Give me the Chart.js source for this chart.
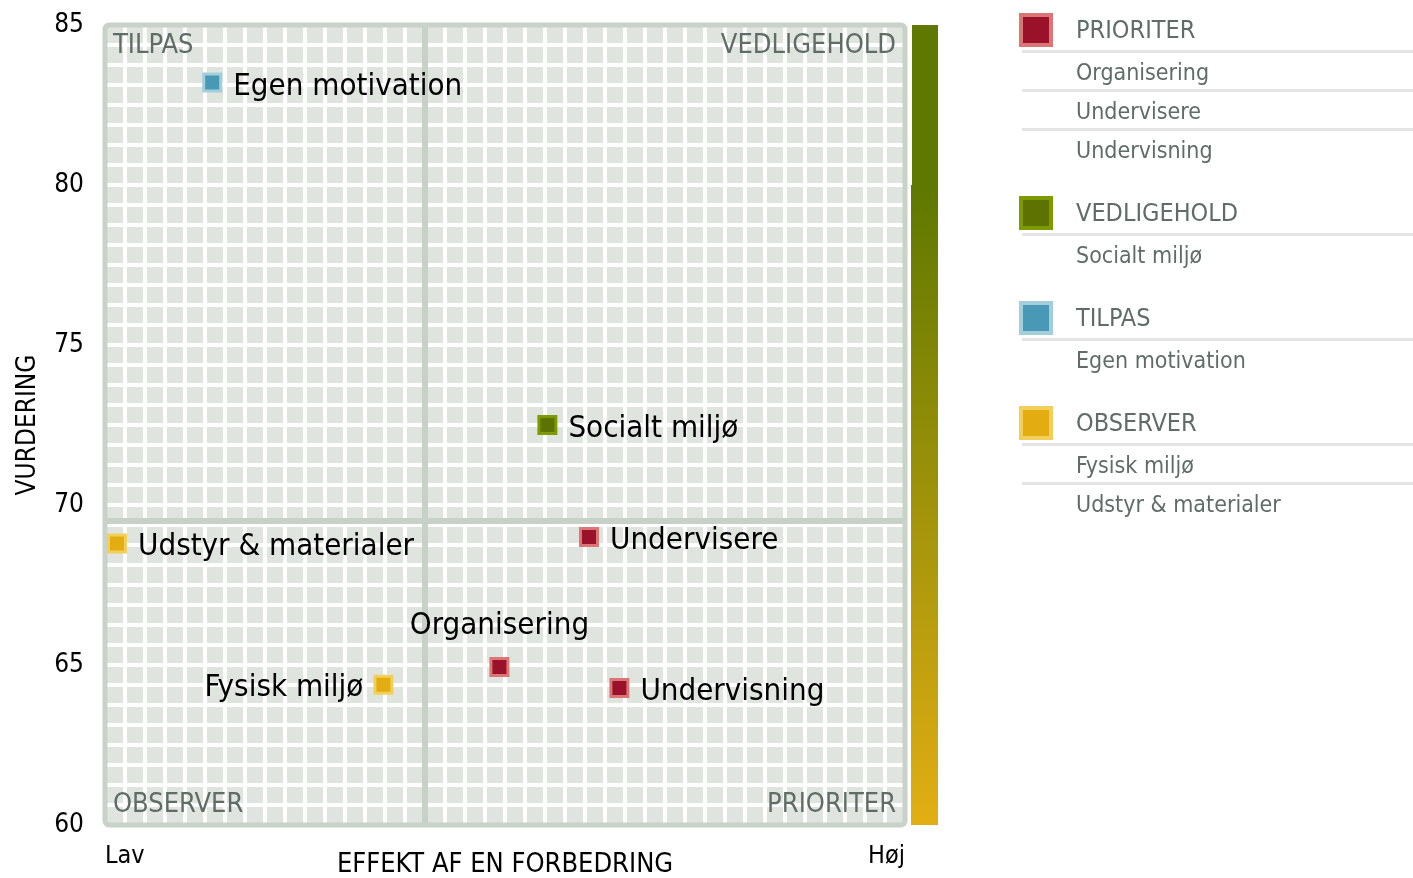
<!DOCTYPE html>
<html>
<head>
<meta charset="utf-8">
<script src="https://cdn.jsdelivr.net/npm/chart.js@4.4.1/dist/chart.umd.min.js"></script>
<style>
  body { margin: 0; background: #fff; font-family: "DejaVu Sans Condensed", "DejaVu Sans", sans-serif; }
  #wrap { position: relative; width: 1413px; height: 878px; overflow: hidden; }
  #legend { position: absolute; left: 0; top: 0; width: 1413px; height: 878px; pointer-events: none; }
  .lg-text { position: absolute; left: 1076px; color: #5f6d66; white-space: nowrap; line-height: 30px; height: 30px; }
  .lg-head { font-size: 25px; }
  .lg-item { font-size: 23px; }
  .lg-mark { position: absolute; left: 1019px; width: 26px; height: 26px; border: 4px solid; }
  .lg-line { position: absolute; left: 1022px; width: 391px; height: 3px; background: #e3e4e3; }
</style>
</head>
<body>
<div id="wrap">
  <canvas id="chart" width="1413" height="878"></canvas>
  <div id="legend"></div>
</div>
<script>
const FONT = 'DejaVu Sans Condensed';

// Quadrants / groups
const groups = ['PRIORITER', 'VEDLIGEHOLD', 'TILPAS', 'OBSERVER'];
const groupFill = ['#9a1229', '#5d7200', '#4898b6', '#e3ad12'];
const groupEdge = ['#da7676', '#7d9b00', '#a3cfdc', '#f2cf5c'];

// Items
const names = ['Organisering', 'Undervisere', 'Undervisning', 'Socialt miljø', 'Egen motivation', 'Fysisk miljø', 'Udstyr & materialer'];
const itemGroup = ['PRIORITER', 'PRIORITER', 'PRIORITER', 'VEDLIGEHOLD', 'TILPAS', 'OBSERVER', 'OBSERVER'];
const effekt = [49.3, 60.5, 64.3, 55.3, 13.4, 34.8, 1.5];
const vurdering = [64.94, 69.0, 64.28, 72.5, 83.2, 64.38, 68.8];

// Axes
const yTicks = [60, 65, 70, 75, 80, 85];
const xEnds = ['Lav', 'Høj'];
const xSplit = 40;
const ySplit = 69.5;
const colorBarTop = 80;

// label placement (default to the right of the marker)
const labelSide = { 'Fysisk miljø': 'left', 'Organisering': 'top' };

const datasets = groups.map((g, gi) => ({
  label: g,
  data: names.map((n, i) => itemGroup[i] === g ? { x: effekt[i], y: vurdering[i], name: n } : null).filter(d => d),
  pointStyle: 'rect',
  pointRadius: 12,
  pointHoverRadius: 12,
  borderWidth: 3,
  backgroundColor: groupFill[gi],
  borderColor: groupEdge[gi]
}));

const quadrantPlugin = {
  id: 'quadrants',
  beforeDraw(chart) {
    const { ctx, chartArea: a } = chart;
    ctx.save();
    ctx.fillStyle = '#dfe4df';
    ctx.fillRect(a.left, a.top, a.right - a.left, a.bottom - a.top);
    ctx.restore();
  },
  beforeDatasetsDraw(chart) {
    const { ctx, chartArea: a, scales } = chart;
    const x = scales.x, y = scales.y;
    ctx.save();
    // dividers
    ctx.strokeStyle = '#c7d1c7';
    ctx.lineWidth = 6;
    ctx.beginPath();
    ctx.moveTo(x.getPixelForValue(xSplit), a.top);
    ctx.lineTo(x.getPixelForValue(xSplit), a.bottom);
    ctx.moveTo(a.left, y.getPixelForValue(ySplit));
    ctx.lineTo(a.right, y.getPixelForValue(ySplit));
    ctx.stroke();
    // outer border
    ctx.strokeStyle = '#c9d2c9';
    ctx.lineWidth = 5;
    ctx.beginPath();
    ctx.roundRect(a.left, a.top, a.right - a.left, a.bottom - a.top, 4);
    ctx.stroke();
    // quadrant names
    ctx.fillStyle = '#5f6d66';
    ctx.font = '27px "' + FONT + '"';
    ctx.textBaseline = 'middle';
    ctx.textAlign = 'left';
    ctx.fillText('TILPAS', a.left + 8, a.top + 21);
    ctx.fillText('OBSERVER', a.left + 8, a.bottom - 20);
    ctx.textAlign = 'right';
    ctx.fillText('VEDLIGEHOLD', a.right - 9, a.top + 21);
    ctx.fillText('PRIORITER', a.right - 9, a.bottom - 20);
    // colour bar
    const bx = a.right + 6, bw = 27;
    const yTop = y.getPixelForValue(y.max), yMid = y.getPixelForValue(colorBarTop), yBot = y.getPixelForValue(y.min);
    ctx.fillStyle = '#5e7800';
    ctx.fillRect(bx + 1, yTop, bw - 1, yMid - yTop);
    const grad = ctx.createLinearGradient(0, yMid, 0, yBot);
    grad.addColorStop(0, '#5e7800');
    grad.addColorStop(1, '#e2ae14');
    ctx.fillStyle = grad;
    ctx.fillRect(bx, yMid, bw, yBot - yMid);
    ctx.restore();
  },
  afterDatasetsDraw(chart) {
    const { ctx } = chart;
    ctx.save();
    ctx.fillStyle = '#000';
    ctx.font = '31px "' + FONT + '"';
    ctx.textBaseline = 'middle';
    chart.data.datasets.forEach((ds, di) => {
      const meta = chart.getDatasetMeta(di);
      meta.data.forEach((pt, i) => {
        const name = ds.data[i].name;
        const side = labelSide[name] || 'right';
        if (side === 'left') {
          ctx.textAlign = 'right';
          ctx.fillText(name, pt.x - 20, pt.y + 3);
        } else if (side === 'top') {
          ctx.textAlign = 'center';
          ctx.fillText(name, pt.x, pt.y - 41);
        } else {
          ctx.textAlign = 'left';
          ctx.fillText(name, pt.x + 21, pt.y + 4);
        }
      });
    });
    ctx.restore();
  }
};

new Chart(document.getElementById('chart'), {
  type: 'scatter',
  data: { datasets },
  options: {
    responsive: false,
    animation: false,
    layout: { padding: { top: 25, right: 508, left: 0, bottom: 0 } },
    plugins: { legend: { display: false }, tooltip: { enabled: false } },
    scales: {
      x: {
        min: 0, max: 100,
        border: { display: false },
        grid: { color: '#ffffff', lineWidth: 4, drawTicks: false },
        ticks: {
          stepSize: 2.5, autoSkip: false, maxRotation: 0, align: 'inner', padding: 16,
          color: '#000', font: { family: FONT, size: 25 },
          callback: v => v === 0 ? xEnds[0] : (v === 100 ? xEnds[1] : '')
        },
        title: {
          display: true, text: 'EFFEKT AF EN FORBEDRING', color: '#000',
          font: { family: FONT, size: 27 }, padding: { top: 0, bottom: -3 }
        },
        afterFit: s => { s.height = 53; s.paddingLeft = 0; s.paddingRight = 0; }
      },
      y: {
        min: 60, max: 85,
        border: { display: false },
        grid: { color: '#ffffff', lineWidth: 4, drawTicks: false },
        ticks: {
          stepSize: 0.625, autoSkip: false, padding: 21,
          color: '#000', font: { family: FONT, size: 26 },
          callback: v => yTicks.includes(v) ? String(v) : ''
        },
        title: {
          display: true, text: 'VURDERING', color: '#000',
          font: { family: FONT, size: 26 }, padding: { top: 13, bottom: 0 }
        },
        afterFit: s => { s.width = 105; s.paddingTop = 0; s.paddingBottom = 0; }
      }
    }
  },
  plugins: [quadrantPlugin]
});

// legend on the right
const legend = document.getElementById('legend');
let cy = 30;
groups.forEach((g, gi) => {
  const items = names.filter((n, i) => itemGroup[i] === g);
  const mark = document.createElement('div');
  mark.className = 'lg-mark';
  mark.style.top = (cy - 17) + 'px';
  mark.style.background = groupFill[gi];
  mark.style.borderColor = groupEdge[gi];
  legend.appendChild(mark);
  const rows = [g].concat(items);
  rows.forEach((r, ri) => {
    const t = document.createElement('div');
    t.className = 'lg-text ' + (ri === 0 ? 'lg-head' : 'lg-item');
    t.style.top = (cy - 15) + 'px';
    t.textContent = r;
    legend.appendChild(t);
    if (ri < rows.length - 1) {
      const step = ri === 0 ? 42 : 39;
      const l = document.createElement('div');
      l.className = 'lg-line';
      l.style.top = (cy + (ri === 0 ? 20 : 17)) + 'px';
      legend.appendChild(l);
      cy += step;
    }
  });
  cy += 63;
});
</script>
</body>
</html>
